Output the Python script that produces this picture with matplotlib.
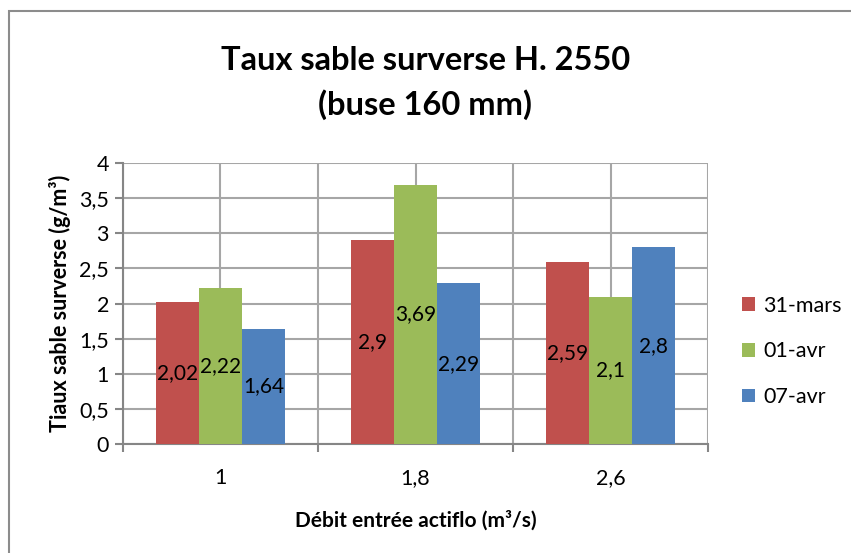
import numpy as np
import matplotlib.pyplot as plt
from matplotlib.patches import Rectangle

plt.rcParams['font.family'] = ['Lato', 'DejaVu Sans']

# Données
debits = ['1', '1,8', '2,6']
dates = ['31-mars', '01-avr', '07-avr']
taux_31_mars = [2.02, 2.9, 2.59]
taux_01_avr = [2.22, 3.69, 2.1]
taux_07_avr = [1.64, 2.29, 2.8]
couleurs = ['#C0504D', '#9BBB59', '#4F81BD']

series = [taux_31_mars, taux_01_avr, taux_07_avr]

fig = plt.figure(figsize=(8.51, 5.53), dpi=100)
ax = fig.add_axes([0.1445, 0.197, 0.6875, 0.508])

# cadre du graphique
fig.patches.append(Rectangle((9 / 851, -0.05), 1.1, 1 - 11 / 553 + 0.05,
                             transform=fig.transFigure, fill=False,
                             edgecolor='#8c8c8c', linewidth=1.5, zorder=0))

x = np.arange(len(debits))
largeur = 0.222
for i, (valeurs, nom, c) in enumerate(zip(series, dates, couleurs)):
    barres = ax.bar(x + (i - 1) * largeur, valeurs, largeur, color=c, label=nom, zorder=3)
    ax.bar_label(barres, labels=[f'{v:g}'.replace('.', ',') for v in valeurs],
                 label_type='center', fontsize=15, color='black', zorder=4)

ax.set_ylim(0, 4)
ax.set_xlim(-0.5, 2.5)
ax.set_yticks(np.arange(0, 4.01, 0.5))
ax.set_yticklabels([f'{v:g}'.replace('.', ',') for v in np.arange(0, 4.01, 0.5)])
ax.set_xticks(x)
ax.set_xticklabels(debits)
ax.set_xticks(np.arange(-0.5, 2.6, 1), minor=True)

ax.tick_params(axis='x', which='major', length=0, labelsize=15.5, pad=17)
ax.tick_params(axis='x', which='minor', length=6, width=1.5, color='#868686')
ax.tick_params(axis='y', length=6, width=1.5, color='#868686', labelsize=15.5, pad=4)

ax.grid(True, which='both', color='#a6a6a6', linewidth=1.5, zorder=0)
for s in ['top', 'right']:
    ax.spines[s].set_visible(False)
for s in ['left', 'bottom']:
    ax.spines[s].set_color('#868686')
    ax.spines[s].set_linewidth(1.5)

ax.set_ylabel('Tiaux sable surverse (g/m³)', fontsize=15.5, fontweight='bold', labelpad=6)
ax.set_xlabel('Débit entrée actiflo (m³/s)', fontsize=15, fontweight='bold', labelpad=16)

fig.text(0.5, 1 - 60 / 553, 'Taux sable surverse H. 2550', ha='center', va='center',
         fontsize=23.5, fontweight='bold')
fig.text(0.5, 1 - 105 / 553, '(buse 160 mm)', ha='center', va='center',
         fontsize=23.5, fontweight='bold')

ax.legend(loc='center left', bbox_to_anchor=(1.025, 0.33), frameon=False,
          fontsize=15.5, handlelength=0.6, handleheight=0.6, labelspacing=1.2,
          handletextpad=0.4)

fig.savefig('out.png', dpi=100)
